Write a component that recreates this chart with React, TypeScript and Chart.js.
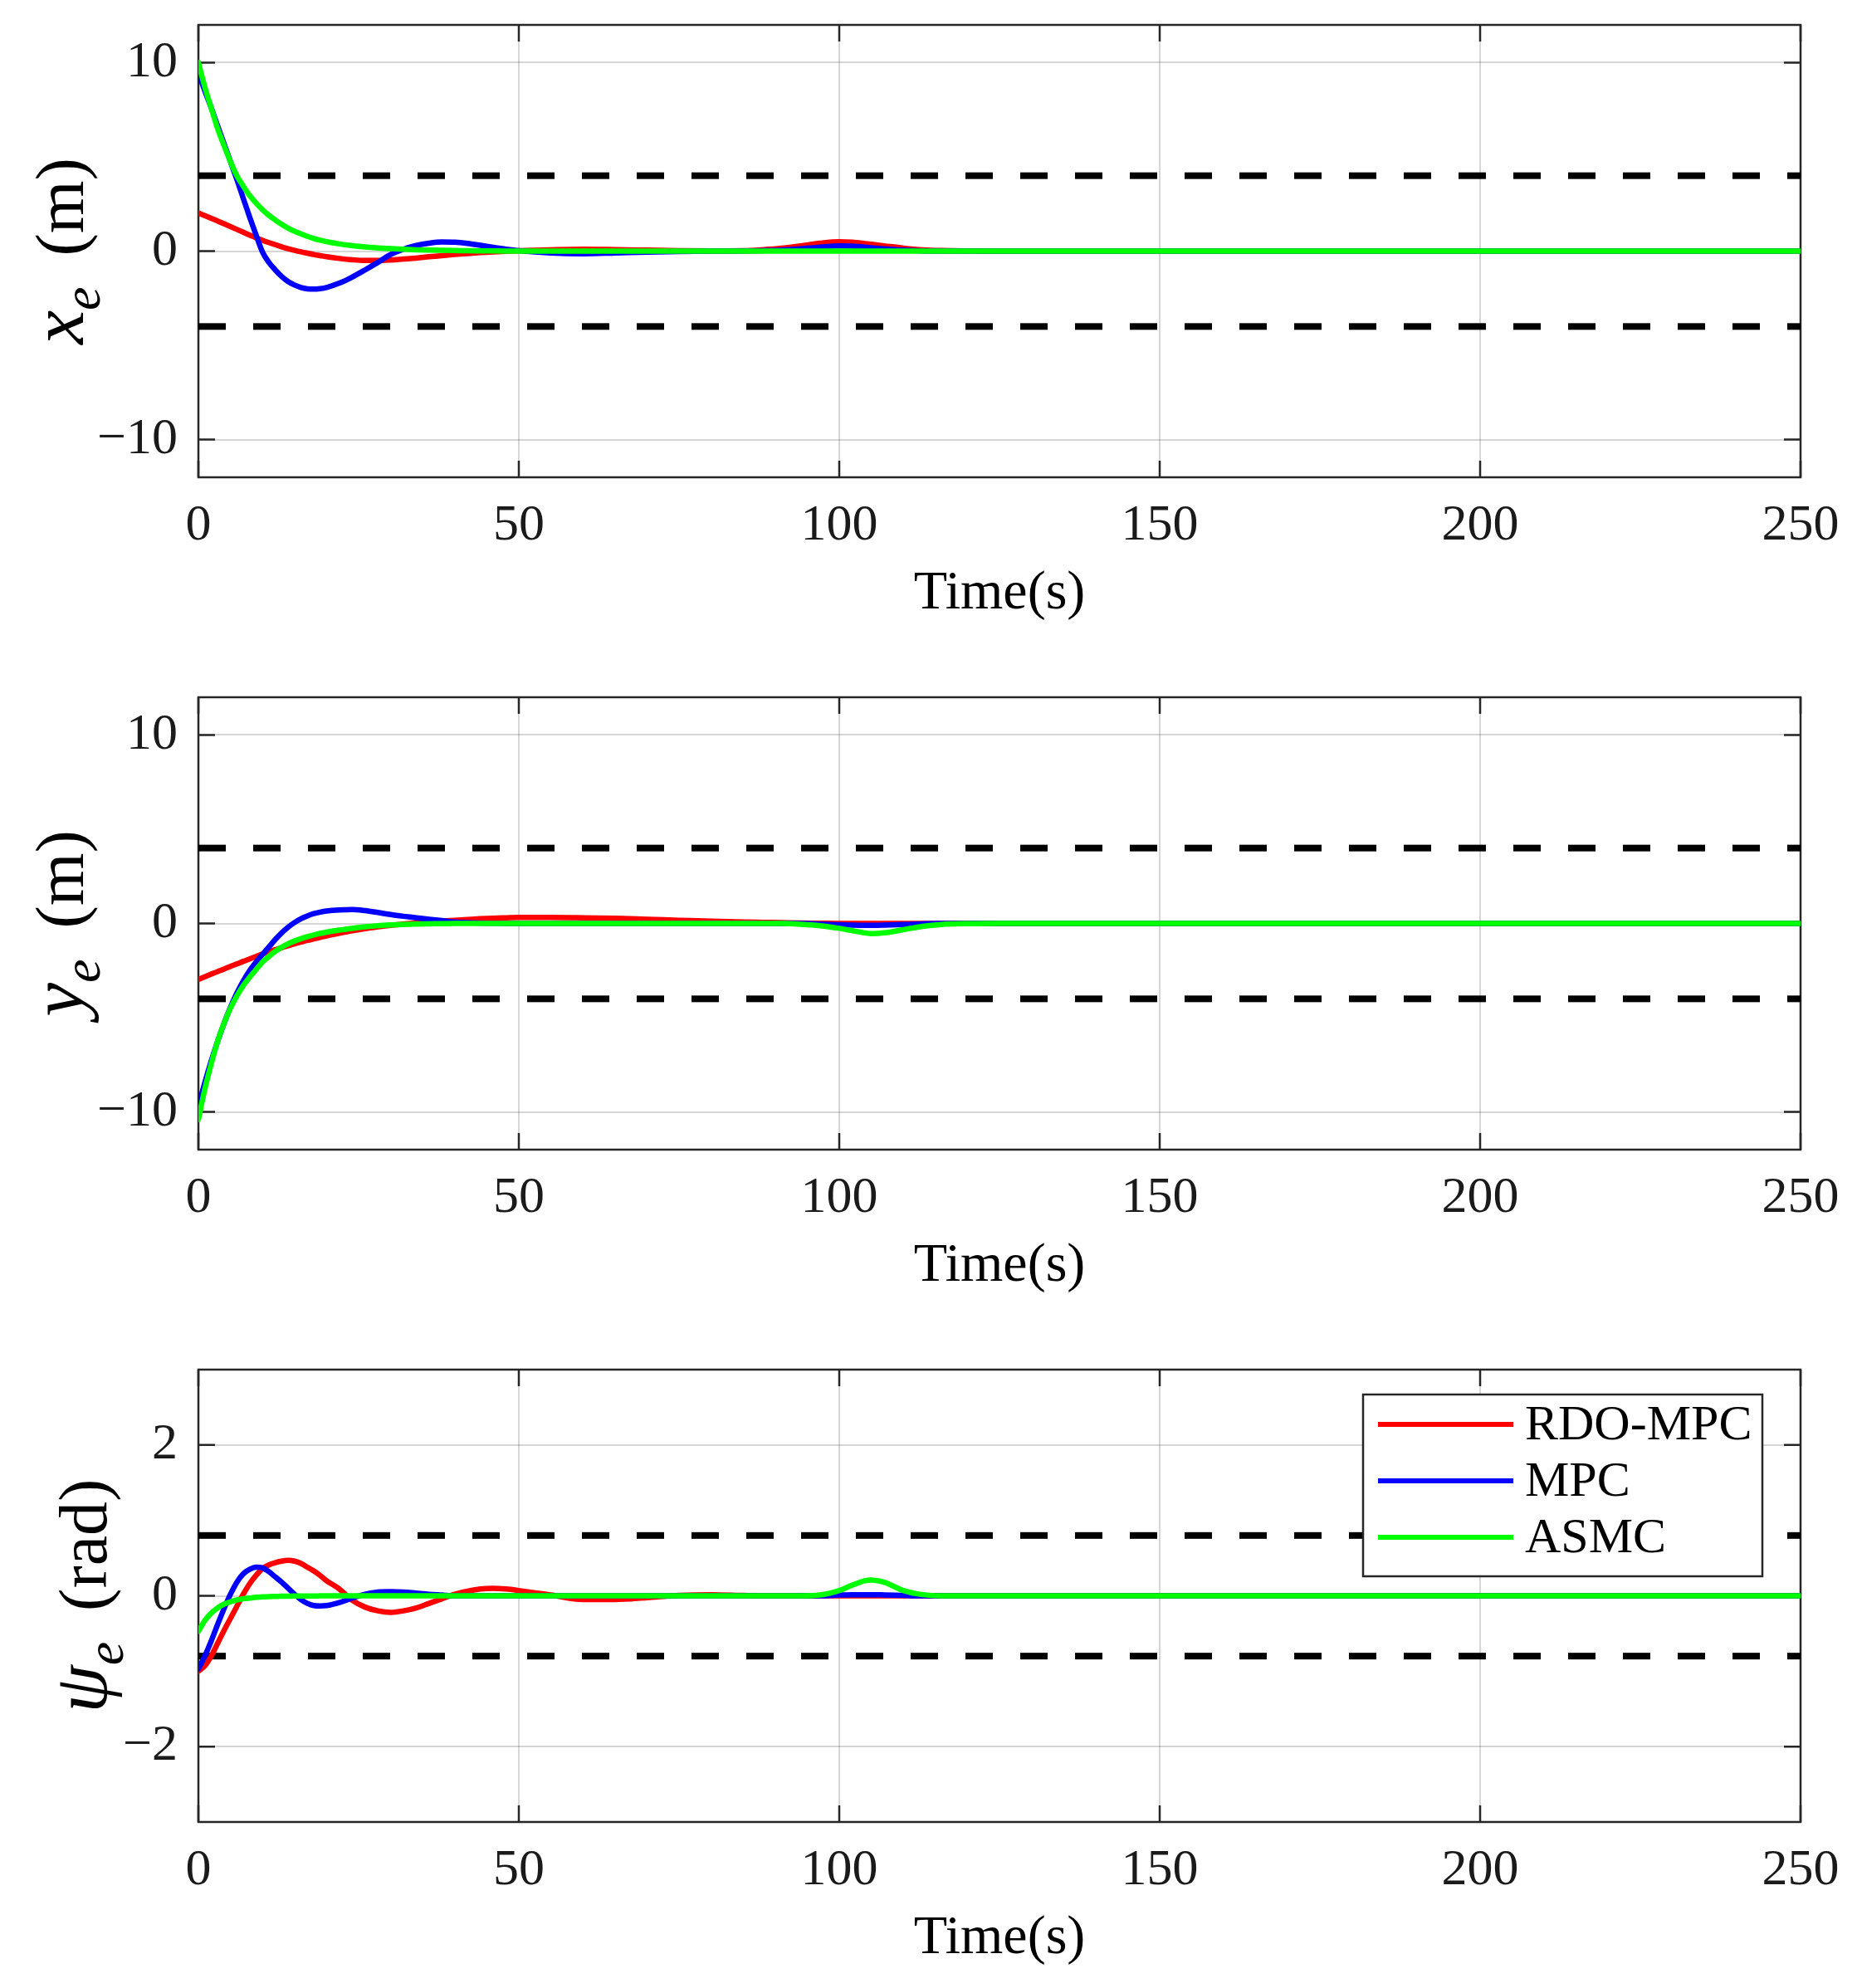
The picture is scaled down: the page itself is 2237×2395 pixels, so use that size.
import React, { useEffect, useRef } from "react";
import { Chart, registerables } from "chart.js";

Chart.register(...registerables);

// ---------- data ----------
const time = [
  0, 1, 2, 3, 4, 5, 6, 7, 8, 9, 10, 11, 12, 13, 14, 15, 16, 17, 18, 19, 20,
  22, 24, 26, 28, 30, 32, 34, 36, 38, 40, 42, 44, 46, 48, 50,
  55, 60, 65, 70, 75, 80, 85,
  88, 91, 94, 97,
  100, 102, 104, 105, 107, 110,
  113, 116, 120, 125, 130,
  250,
];

const xeRdo = [
  2.02, 1.88, 1.74, 1.6, 1.45, 1.3, 1.15, 1.0, 0.85, 0.7, 0.57, 0.45, 0.34, 0.23, 0.13, 0.04, -0.04, -0.11, -0.18, -0.24, -0.3,
  -0.39, -0.46, -0.5, -0.5, -0.47, -0.42, -0.37, -0.3, -0.24, -0.18, -0.13, -0.08, -0.04, -0.01, 0.02,
  0.07, 0.1, 0.08, 0.05, 0.02, 0.01, 0.02,
  0.07, 0.15, 0.28, 0.42,
  0.5, 0.47, 0.4, 0.36, 0.28, 0.16,
  0.07, 0.03, 0.01, 0, 0,
  0,
];
const xeMpc = [
  9.45, 8.5, 7.6, 6.65, 5.7, 4.75, 3.8, 2.8, 1.8, 0.85, -0.05, -0.6, -1.0, -1.35, -1.62, -1.8, -1.93, -2.0, -2.02, -1.99, -1.93,
  -1.7, -1.38, -1.0, -0.6, -0.18, 0.1, 0.3, 0.42, 0.48, 0.47, 0.41, 0.31, 0.2, 0.1, 0.02,
  -0.1, -0.14, -0.1, -0.05, -0.02, 0, 0.01,
  0.02, 0.05, 0.12, 0.21,
  0.28, 0.26, 0.21, 0.18, 0.12, 0.05,
  0.015, 0, 0, 0, 0,
  0,
];
const xeAsmc = [
  10, 8.7, 7.6, 6.5, 5.6, 4.75, 4.0, 3.45, 2.95, 2.55, 2.2, 1.9, 1.65, 1.42, 1.22, 1.05, 0.91, 0.78, 0.67, 0.58, 0.5,
  0.38, 0.29, 0.22, 0.17, 0.13, 0.1, 0.07, 0.05, 0.04, 0.03, 0.02, 0.015, 0.01, 0.005, 0,
  0, 0, 0, 0, 0, 0, 0,
  0, 0, 0, 0,
  0, 0, 0, 0, 0, 0,
  0, 0, 0, 0, 0,
  0,
];

const yeRdo = [
  -2.97, -2.83, -2.69, -2.55, -2.42, -2.28, -2.15, -2.01, -1.88, -1.75, -1.62, -1.5, -1.39, -1.28, -1.18, -1.08, -0.99, -0.9, -0.82, -0.74, -0.66,
  -0.52, -0.39, -0.28, -0.18, -0.1, -0.03, 0.03, 0.08, 0.13, 0.17, 0.21, 0.25, 0.28, 0.3, 0.32,
  0.32, 0.3, 0.27, 0.22, 0.17, 0.12, 0.08,
  0.06, 0.04, 0.02, 0.01,
  0, 0, 0, 0, 0, 0,
  0, 0, 0, 0, 0,
  0,
];
const yeMpc = [
  -9.7, -8.45, -7.3, -6.25, -5.3, -4.45, -3.7, -3.05, -2.5, -2.05, -1.65, -1.25, -0.85, -0.5, -0.2, 0.05, 0.25, 0.4, 0.52, 0.6, 0.66,
  0.72, 0.74, 0.68, 0.58, 0.47, 0.38, 0.3, 0.22, 0.15, 0.08, 0.04, 0.02, 0.01, 0, 0,
  0, 0, 0, 0, 0, 0, 0,
  0, 0, 0, -0.03,
  -0.07, -0.09, -0.1, -0.1, -0.09, -0.06,
  -0.02, 0, 0, 0, 0,
  0,
];
const yeAsmc = [
  -10.4, -8.8, -7.45, -6.25, -5.3, -4.5, -3.85, -3.3, -2.85, -2.45, -2.05, -1.75, -1.48, -1.26, -1.08, -0.93, -0.81, -0.7, -0.61, -0.53, -0.46,
  -0.35, -0.26, -0.18, -0.12, -0.08, -0.05, -0.03, -0.02, -0.01, 0, 0, 0, 0, 0, 0,
  0, 0, 0, 0, 0, 0, 0,
  0, 0, -0.04, -0.12,
  -0.26, -0.38, -0.5, -0.54, -0.5, -0.33,
  -0.15, -0.05, -0.01, 0, 0,
  0,
];

const psiRdo = [
  -1.0, -0.93, -0.8, -0.63, -0.46, -0.3, -0.14, 0.02, 0.16, 0.27, 0.36, 0.41, 0.44, 0.46, 0.47, 0.46, 0.43, 0.38, 0.33, 0.27, 0.2,
  0.09, -0.06, -0.15, -0.2, -0.22, -0.2, -0.16, -0.1, -0.04, 0.02, 0.06, 0.09, 0.1, 0.09, 0.07,
  0.01, -0.05, -0.05, -0.025, 0.005, 0.015, 0.005,
  0, 0, 0, 0,
  0, 0, 0, 0, 0, 0,
  0, 0, 0, 0, 0,
  0,
];
const psiMpc = [
  -0.97, -0.8, -0.6, -0.38, -0.17, 0.02, 0.18, 0.29, 0.35, 0.38, 0.37, 0.32, 0.25, 0.18, 0.1, 0.02, -0.05, -0.1, -0.13, -0.135, -0.13,
  -0.09, -0.03, 0.02, 0.05, 0.055, 0.05, 0.035, 0.02, 0.01, 0, 0, 0, 0, 0, 0,
  0, 0, 0, 0, 0, 0, 0,
  0, 0, 0, 0,
  0.01, 0.015, 0.015, 0.015, 0.012, 0.005,
  0, 0, 0, 0, 0,
  0,
];
const psiAsmc = [
  -0.47, -0.33, -0.23, -0.16, -0.11, -0.08, -0.055, -0.04, -0.03, -0.02, -0.015, -0.01, -0.008, -0.006, -0.005, -0.004, -0.003, -0.002, -0.002, -0.001, 0,
  0, 0, 0, 0, 0, 0, 0, 0, 0, 0, 0, 0, 0, 0, 0,
  0, 0, 0, 0, 0, 0, 0,
  0, 0, 0, 0.01,
  0.07, 0.14, 0.2, 0.21, 0.18, 0.07,
  0.015, 0, 0, 0, 0,
  0,
];

const xTicks = [0, 50, 100, 150, 200, 250];
const posTicks = [-10, 0, 10];
const psiTicks = [-2, 0, 2];
const posBound = 4;
const psiBound = 0.8;
const seriesNames = ["RDO-MPC", "MPC", "ASMC"];
const seriesColors = ["#ff0000", "#0000ff", "#00ff00"];
const xTitle = "Time(s)";

// ---------- styling ----------
const FONT = '"Liberation Serif", "DejaVu Serif", serif';
const INK = "#262626";
const W = 2237;
const PLOT_TOP = 30;
const PLOT_BOTTOM = 575;
const PLOT_LEFT = 239;
const PLOT_RIGHT_PAD = 68;

type PanelDef = {
  rdo: number[];
  mpc: number[];
  asmc: number[];
  yMin: number;
  yMax: number;
  yTicks: number[];
  bound: number;
  symbol: string;
  sub: string;
  unit: string;
  titleBaseX: number;
  legend: boolean;
  height: number;
  top: number;
};

const panels: PanelDef[] = [
  { rdo: xeRdo, mpc: xeMpc, asmc: xeAsmc, yMin: -12, yMax: 12, yTicks: posTicks, bound: posBound, symbol: "x", sub: "e", unit: "m", titleBaseX: 100, legend: false, height: 810, top: 0 },
  { rdo: yeRdo, mpc: yeMpc, asmc: yeAsmc, yMin: -12, yMax: 12, yTicks: posTicks, bound: posBound, symbol: "y", sub: "e", unit: "m", titleBaseX: 100, legend: false, height: 810, top: 810 },
  { rdo: psiRdo, mpc: psiMpc, asmc: psiAsmc, yMin: -3, yMax: 3, yTicks: psiTicks, bound: psiBound, symbol: "\u03c8", sub: "e", unit: "rad", titleBaseX: 128, legend: true, height: 775, top: 1620 },
];

const fmt = (v: number) => (v < 0 ? "\u2212" + Math.abs(v) : String(v));

const decorPlugin = {
  id: "decor",
  beforeDatasetsDraw(chart: any, _args: any, opts: any) {
    const { ctx, chartArea } = chart;
    const { left, right, top, bottom } = chartArea;
    const xs = chart.scales.x;
    const ys = chart.scales.y;
    ctx.save();
    ctx.strokeStyle = INK;
    ctx.lineWidth = 2.5;
    ctx.beginPath();
    const tl = 20;
    for (const v of xTicks) {
      const px = xs.getPixelForValue(v);
      ctx.moveTo(px, bottom);
      ctx.lineTo(px, bottom - tl);
      ctx.moveTo(px, top);
      ctx.lineTo(px, top + tl);
    }
    for (const v of opts.yTicks) {
      const py = ys.getPixelForValue(v);
      ctx.moveTo(left, py);
      ctx.lineTo(left + tl, py);
      ctx.moveTo(right, py);
      ctx.lineTo(right - tl, py);
    }
    ctx.stroke();
    ctx.strokeRect(left, top, right - left, bottom - top);
    ctx.restore();
  },
  afterDraw(chart: any, _args: any, opts: any) {
    const { ctx, chartArea } = chart;
    const { left, right, top, bottom } = chartArea;
    ctx.save();
    ctx.fillStyle = "#000";
    // x title
    ctx.font = `66px ${FONT}`;
    ctx.textAlign = "center";
    ctx.textBaseline = "middle";
    ctx.fillText(xTitle, (left + right) / 2, bottom + 141);

    // y title (rotated, with subscript)
    const parts = [
      { text: opts.symbol, font: `italic 92px ${FONT}`, dy: 0 },
      { text: opts.sub, font: `italic 64px ${FONT}`, dy: 20 },
      { text: "\u2009 (" + opts.unit + ")", font: `82px ${FONT}`, dy: 0 },
    ];
    let total = 0;
    const widths: number[] = [];
    for (const p of parts) {
      ctx.font = p.font;
      const w = ctx.measureText(p.text).width;
      widths.push(w);
      total += w;
    }
    ctx.translate(opts.titleBaseX, (top + bottom) / 2);
    ctx.rotate(-Math.PI / 2);
    ctx.textAlign = "left";
    ctx.textBaseline = "alphabetic";
    let x = -total / 2;
    parts.forEach((p, i) => {
      ctx.font = p.font;
      ctx.fillText(p.text, x, p.dy);
      x += widths[i];
    });
    ctx.restore();

    if (opts.legend) {
      ctx.save();
      const bx = right - 527;
      const by = top + 30;
      const bw = 481;
      const bh = 219;
      ctx.fillStyle = "#fff";
      ctx.fillRect(bx, by, bw, bh);
      ctx.strokeStyle = INK;
      ctx.lineWidth = 2.5;
      ctx.strokeRect(bx, by, bw, bh);
      ctx.font = `60px ${FONT}`;
      ctx.textAlign = "left";
      ctx.textBaseline = "middle";
      seriesNames.forEach((name, i) => {
        const ry = by + 36 + i * 68;
        ctx.strokeStyle = seriesColors[i];
        ctx.lineWidth = 6;
        ctx.beginPath();
        ctx.moveTo(bx + 18, ry);
        ctx.lineTo(bx + 181, ry);
        ctx.stroke();
        ctx.fillStyle = "#000";
        ctx.fillText(name, bx + 195, ry + 2);
      });
      ctx.restore();
    }
  },
};

function PanelChart({ panel }: { panel: PanelDef }) {
  const ref = useRef<HTMLCanvasElement | null>(null);
  useEffect(() => {
    const canvas = ref.current;
    if (!canvas) return;
    const pts = (vals: number[]) => time.map((t, i) => ({ x: t, y: vals[i] }));
    const curve = (label: string, vals: number[], color: string, order: number) => ({
      label,
      data: pts(vals),
      borderColor: color,
      backgroundColor: color,
      borderWidth: 6.5,
      pointRadius: 0,
      cubicInterpolationMode: "monotone" as const,
      borderJoinStyle: "round" as const,
      borderCapStyle: "round" as const,
      order,
    });
    const bound = (v: number) => ({
      label: "bound",
      data: [
        { x: xTicks[0], y: v },
        { x: xTicks[xTicks.length - 1], y: v },
      ],
      borderColor: "#000",
      borderWidth: 8,
      borderDash: [33, 33],
      borderCapStyle: "butt" as const,
      pointRadius: 0,
      order: 3,
    });
    const xScaleHeight = panel.height - PLOT_BOTTOM;
    const chart = new Chart(canvas, {
      type: "line",
      data: {
        datasets: [
          curve(seriesNames[2], panel.asmc, seriesColors[2], 0),
          curve(seriesNames[1], panel.mpc, seriesColors[1], 1),
          curve(seriesNames[0], panel.rdo, seriesColors[0], 2),
          bound(panel.bound),
          bound(-panel.bound),
        ] as any,
      },
      options: {
        responsive: false,
        animation: false,
        devicePixelRatio: 1,
        events: [],
        layout: { padding: { left: 0, right: PLOT_RIGHT_PAD, top: PLOT_TOP, bottom: 0 } },
        plugins: {
          legend: { display: false },
          tooltip: { enabled: false },
          decor: {
            yTicks: panel.yTicks,
            symbol: panel.symbol,
            sub: panel.sub,
            unit: panel.unit,
            titleBaseX: panel.titleBaseX,
            legend: panel.legend,
          },
        } as any,
        scales: {
          x: {
            type: "linear",
            min: xTicks[0],
            max: xTicks[xTicks.length - 1],
            afterBuildTicks: (s: any) => {
              s.ticks = xTicks.map((v) => ({ value: v }));
            },
            afterFit: (s: any) => {
              s.height = xScaleHeight;
              s.paddingLeft = 0;
              s.paddingRight = 0;
            },
            grid: { color: "rgba(0,0,0,0.16)", lineWidth: 2, drawTicks: false },
            border: { display: false },
            ticks: {
              padding: 22,
              autoSkip: false,
              maxRotation: 0,
              color: "#1a1a1a",
              font: { family: FONT, size: 62, lineHeight: 1.2 },
              callback: (v: any) => fmt(Number(v)),
            },
          },
          y: {
            type: "linear",
            min: panel.yMin,
            max: panel.yMax,
            afterBuildTicks: (s: any) => {
              s.ticks = panel.yTicks.map((v) => ({ value: v }));
            },
            afterFit: (s: any) => {
              s.width = PLOT_LEFT;
              s.paddingTop = 0;
              s.paddingBottom = 0;
            },
            grid: { color: "rgba(0,0,0,0.16)", lineWidth: 2, drawTicks: false },
            border: { display: false },
            ticks: {
              padding: 25,
              autoSkip: false,
              color: "#1a1a1a",
              font: { family: FONT, size: 62, lineHeight: 1.2 },
              callback: (v: any) => fmt(Number(v)),
            },
          },
        },
      } as any,
      plugins: [decorPlugin as any],
    });
    return () => chart.destroy();
  }, [panel]);
  return (
    <canvas
      ref={ref}
      width={W}
      height={panel.height}
      style={{ position: "absolute", left: 0, top: panel.top, width: W, height: panel.height }}
    />
  );
}

export default function App() {
  return (
    <div style={{ position: "absolute", left: 0, top: 0, width: W, height: 2395, background: "#fff" }}>
      {panels.map((p, i) => (
        <PanelChart key={i} panel={p} />
      ))}
    </div>
  );
}
